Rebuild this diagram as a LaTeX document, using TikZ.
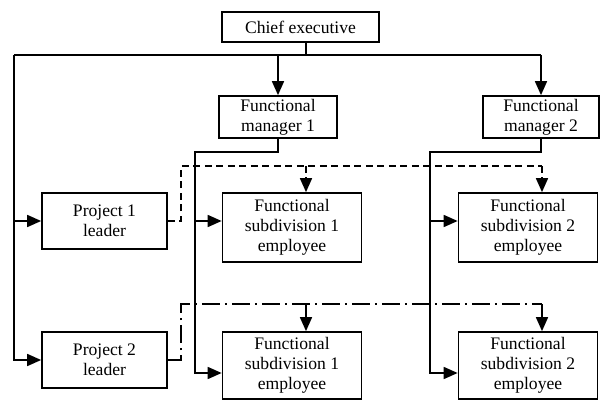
\documentclass[tikz,border=0pt]{standalone}
\usepackage{fontspec}
\setmainfont{Liberation Serif}
\usetikzlibrary{arrows.meta}

\begin{document}
\begin{tikzpicture}[x=1pt, y=-1pt, line width=1.7pt,
	box/.style={draw, line width=1.7pt, align=center, inner sep=0pt, font=\fontsize{17.6}{20}\selectfont},
	arr/.style={-{Triangle[length=14pt, width=12pt]}},
	leadone/.style={dash pattern=on 7pt off 4.5pt},
	leadtwo/.style={line width=1.4pt, dash pattern=on 18pt off 5pt on 2pt off 5pt}]
	\useasboundingbox (0,0) rectangle (600,401);

	% Chief executive and functional managers
	\node[box, minimum width=157pt, minimum height=30pt] (chief) at (300.5,27) {Chief executive};
	\node[box, minimum width=118pt, minimum height=42pt] (fmA) at (278,117) {Functional\\manager 1};
	\node[box, minimum width=116pt, minimum height=42pt] (fmB) at (541,117) {Functional\\manager 2};

	% Project leaders
	\node[box, minimum width=125pt, minimum height=56pt] (projA) at (104.5,221) {Project 1\\leader};
	\node[box, minimum width=125pt, minimum height=56pt] (projB) at (104.5,360) {Project 2\\leader};

	% Functional subdivision employees
	\node[box, minimum width=139pt, minimum height=69pt] (subA1) at (292,227.5) {Functional\\subdivision 1\\employee};
	\node[box, minimum width=139pt, minimum height=69pt] (subB1) at (528,227.5) {Functional\\subdivision 2\\employee};
	\node[box, minimum width=139pt, minimum height=67pt] (subA2) at (292,365.5) {Functional\\subdivision 1\\employee};
	\node[box, minimum width=139pt, minimum height=67pt] (subB2) at (528,365.5) {Functional\\subdivision 2\\employee};

	% Junction points
	\coordinate (tl) at (14,55);
	\coordinate (cj) at (306,55);
	\coordinate (ja) at (195,152);
	\coordinate (jb) at (430,152);
	\coordinate (rowtwo) at (0,373);
	\coordinate (da) at (181,166);
	\coordinate (dropA1) at (306,166);
	\coordinate (dropB1) at (542,166);
	\coordinate (db) at (181,304);
	\coordinate (dropA2) at (306,304);
	\coordinate (dropB2) at (542,304);

	% Line authority from the chief executive
	\draw (chief.south -| cj) -- (cj);
	\draw (tl) -- (fmB.north |- tl);
	\draw[arr] (fmA.north |- tl) -- (fmA.north);
	\draw[arr] (fmB.north |- tl) -- (fmB.north);
	\draw[arr] (tl) |- (projA.west);
	\draw[arr] (tl) |- (projB.west);

	% Functional managers to employees
	\draw[arr] (fmA.south) |- (ja) |- (subA1.west |- projA.east);
	\draw[arr] (ja) |- (subA2.west |- rowtwo);
	\draw[arr] (fmB.south) |- (jb) |- (subB1.west |- projA.east);
	\draw[arr] (jb) |- (subB2.west |- rowtwo);

	% Project 1 leader (dashed)
	\draw[leadone] (projA.east) -| (da) -- (dropB1);
	\draw[leadone, arr] (dropA1) -- (dropA1 |- subA1.north);
	\draw[leadone, arr] (dropB1) -- (dropB1 |- subB1.north);

	% Project 2 leader (dash-dot)
	\draw[leadtwo] (projB.east) -| (db) -- (dropB2);
	\draw[arr] (dropA2) -- (dropA2 |- subA2.north);
	\draw[arr] (dropB2) -- (dropB2 |- subB2.north);
\end{tikzpicture}
\end{document}
